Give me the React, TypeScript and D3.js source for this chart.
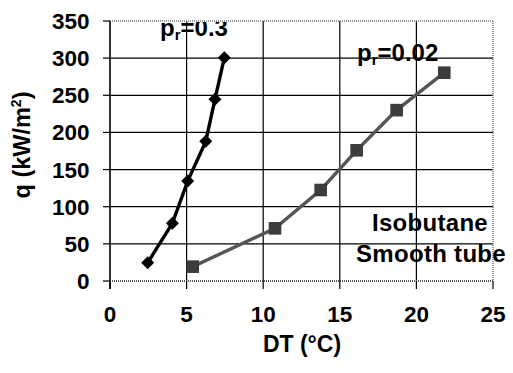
import React from "react";
import * as d3 from "d3";

const xTicks = [0, 5, 10, 15, 20, 25];
const yTicks = [0, 50, 100, 150, 200, 250, 300, 350];
const dtHigh = [2.46, 4.07, 5.07, 6.25, 6.85, 7.46];
const qHigh = [24.6, 77.7, 134.5, 188, 244.5, 300.5];
const dtLow = [5.4, 10.77, 13.75, 16.1, 18.71, 21.82];
const qLow = [19.3, 70.9, 122.5, 175.9, 230, 280.4];

const W = 513, H = 373;
const L = 110, R = 493, T = 21, B = 281;
const FONT = "'Liberation Sans', Arial, sans-serif";

export default function App() {
  const x = d3.scaleLinear().domain([0, 25]).range([L, R]);
  const y = d3.scaleLinear().domain([0, 350]).range([B, T]);
  const line = d3.line<[number, number]>().x(d => x(d[0])).y(d => y(d[1]));
  const high: [number, number][] = dtHigh.map((d, i) => [d, qHigh[i]]);
  const low: [number, number][] = dtLow.map((d, i) => [d, qLow[i]]);
  const diamond = "M0,-6.5L6.5,0L0,6.5L-6.5,0Z";

  return (
    <svg width={W} height={H} style={{ position: "absolute", left: 0, top: 0, background: "#fff" }} fontFamily={FONT} fontWeight="bold">
      <defs>
        <clipPath id="plot">
          <rect x={L} y={T + 1} width={R - L + 20} height={B - T} />
        </clipPath>
      </defs>
      {yTicks.filter(v => v > 0 && v < 350).map(v => (
        <line key={"gy" + v} x1={L} x2={R} y1={y(v)} y2={y(v)} stroke="#000" strokeWidth={1.2} />
      ))}
      {xTicks.filter(v => v > 0 && v < 25).map(v => (
        <line key={"gx" + v} x1={x(v)} x2={x(v)} y1={T} y2={B} stroke="#000" strokeWidth={1.2} />
      ))}
      <line x1={L} x2={R} y1={T} y2={T} stroke="#777" strokeWidth={1.5} strokeDasharray="1,1" />
      <line x1={R} x2={R} y1={T} y2={B} stroke="#777" strokeWidth={1.5} strokeDasharray="1,1" />
      <line x1={L} x2={R} y1={B} y2={B} stroke="#555" strokeWidth={2} strokeDasharray="1,1" />
      <line x1={L} x2={L} y1={T} y2={B + 8} stroke="#333" strokeWidth={2} />
      {yTicks.map(v => (
        <line key={"ty" + v} x1={L - 7} x2={L} y1={y(v)} y2={y(v)} stroke="#000" strokeWidth={1.2} />
      ))}
      {xTicks.map(v => (
        <line key={"tx" + v} x1={x(v)} x2={x(v)} y1={B} y2={B + 8} stroke="#000" strokeWidth={1.2} />
      ))}
      {yTicks.map(v => (
        <text key={"ly" + v} x={89.5} y={y(v) + 8} textAnchor="end" fontSize={22.5}>{v}</text>
      ))}
      {xTicks.map(v => (
        <text key={"lx" + v} x={x(v)} y={322} textAnchor="middle" fontSize={22.5}>{v}</text>
      ))}
      <text x={302} y={352} textAnchor="middle" fontSize={23}>DT (°C)</text>
      <text transform="translate(30,145) rotate(-90)" textAnchor="middle" fontSize={23.5}>
        q (kW/m<tspan fontSize={14} dy={-9}>2</tspan><tspan dy={9}>)</tspan>
      </text>
      <path d={line(low) ?? ""} fill="none" stroke="#555" strokeWidth={3.4} />
      {low.map((d, i) => (
        <rect key={"s" + i} x={x(d[0]) - 6.3} y={y(d[1]) - 6.3} width={12.6} height={12.6} fill="#3c3c3c" />
      ))}
      <path d={line(high) ?? ""} fill="none" stroke="#000" strokeWidth={3.4} />
      {high.map((d, i) => (
        <path key={"d" + i} d={diamond} transform={`translate(${x(d[0])},${y(d[1])})`} fill="#000" />
      ))}
      <g clipPath="url(#plot)">
        <text x={160} y={36} fontSize={24}>p<tspan fontSize={15} dy={4}>r</tspan><tspan dy={-4}>=0.3</tspan></text>
      </g>
      <text x={357} y={61} fontSize={24}>p<tspan fontSize={15} dy={4}>r</tspan><tspan dy={-4}>=0.02</tspan></text>
      <text x={430} y={231} textAnchor="middle" fontSize={24} letterSpacing={0.3}>Isobutane</text>
      <text x={431} y={262} textAnchor="middle" fontSize={24} letterSpacing={0.3}>Smooth tube</text>
    </svg>
  );
}
